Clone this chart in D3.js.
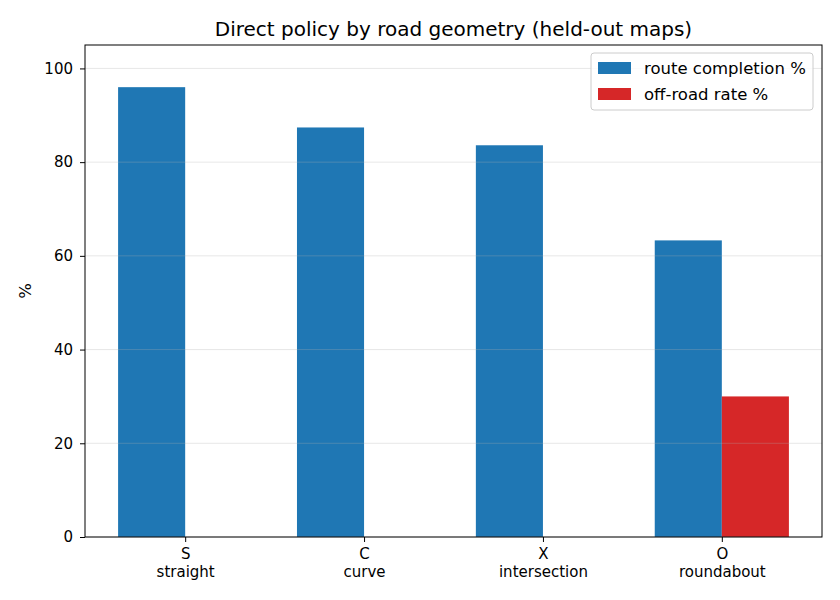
<!DOCTYPE html>
<html lang="en">
<head>
<meta charset="utf-8">
<title>Direct policy by road geometry</title>
<script src="https://cdn.jsdelivr.net/npm/d3@7"></script>
<style>
  body { margin: 0; background: #fff; }
  svg text { font-family: "DejaVu Sans", sans-serif; fill: #000; }
  .axis path, .axis line { stroke: #000; }
</style>
</head>
<body>
<script>
// data
var codes = ["S", "C", "X", "O"];
var names = ["straight", "curve", "intersection", "roundabout"];
var completion = [96.0, 87.4, 83.6, 63.3];
var offroad = [0, 0, 0, 30.0];
var yTicks = [0, 20, 40, 60, 80, 100];

var w = 840, h = 600;
var padL = 85, padR = 822, padT = 45, padB = 537;
var barW = 0.375;

var svg = d3.select("body").append("svg")
  .attr("width", w)
  .attr("height", h);

var x = d3.scaleLinear().domain([-0.56, 3.56]).range([padL, padR]);
var y = d3.scaleLinear().domain([0, 105]).range([padB, padT]);

// bars
svg.append("g").selectAll("rect")
  .data(completion)
  .enter().append("rect")
  .attr("x", (d, i) => x(i - barW))
  .attr("width", x(barW) - x(0))
  .attr("y", d => y(d))
  .attr("height", d => y(0) - y(d))
  .attr("fill", "#1f77b4");

svg.append("g").selectAll("rect")
  .data(offroad)
  .enter().append("rect")
  .attr("x", (d, i) => x(i))
  .attr("width", x(barW) - x(0))
  .attr("y", d => y(d))
  .attr("height", d => y(0) - y(d))
  .attr("fill", "#d62728");

// grid on top, faint
svg.append("g").selectAll("line")
  .data(yTicks)
  .enter().append("line")
  .attr("x1", padL).attr("x2", padR)
  .attr("y1", d => y(d)).attr("y2", d => y(d))
  .attr("stroke", "#b0b0b0")
  .attr("stroke-opacity", 0.3)
  .attr("stroke-width", 1);

// frame
svg.append("rect")
  .attr("x", padL).attr("y", padT)
  .attr("width", padR - padL).attr("height", padB - padT)
  .attr("fill", "none").attr("stroke", "#000").attr("stroke-width", 1);

// y axis
var gY = svg.append("g")
  .attr("class", "axis")
  .attr("transform", "translate(" + padL + ",0)")
  .call(d3.axisLeft(y).tickValues(yTicks).tickSize(5).tickPadding(7));
gY.select(".domain").remove();
gY.selectAll("text").style("font-size", "15px");

// x axis
var gX = svg.append("g")
  .attr("class", "axis")
  .attr("transform", "translate(0," + padB + ")")
  .call(d3.axisBottom(x).tickValues(d3.range(codes.length)).tickSize(5).tickFormat(""));
gX.select(".domain").remove();

gX.selectAll(".tick").each(function(d, i) {
  var t = d3.select(this).append("text")
    .attr("text-anchor", "middle")
    .style("font-size", "15px");
  t.append("tspan").attr("x", 0).attr("y", 22).text(codes[i]);
  t.append("tspan").attr("x", 0).attr("y", 40).text(names[i]);
});

// title
svg.append("text")
  .attr("x", (padL + padR) / 2)
  .attr("y", 36)
  .attr("text-anchor", "middle")
  .style("font-size", "20px")
  .text("Direct policy by road geometry (held-out maps)");

// y label
svg.append("text")
  .attr("transform", "translate(31," + ((padT + padB) / 2) + ") rotate(-90)")
  .attr("text-anchor", "middle")
  .style("font-size", "16.5px")
  .text("%");

// legend
var lg = svg.append("g").attr("transform", "translate(591,53)");
lg.append("rect")
  .attr("width", 222).attr("height", 57)
  .attr("rx", 3)
  .attr("fill", "#fff").attr("fill-opacity", 0.8)
  .attr("stroke", "#ccc");
var items = [["route completion %", "#1f77b4"], ["off-road rate %", "#d62728"]];
items.forEach(function(it, i) {
  lg.append("rect")
    .attr("x", 7).attr("y", 9 + i * 26)
    .attr("width", 33).attr("height", 12)
    .attr("fill", it[1]);
  lg.append("text")
    .attr("x", 53).attr("y", 21 + i * 26)
    .style("font-size", "16.5px")
    .text(it[0]);
});
</script>
</body>
</html>
